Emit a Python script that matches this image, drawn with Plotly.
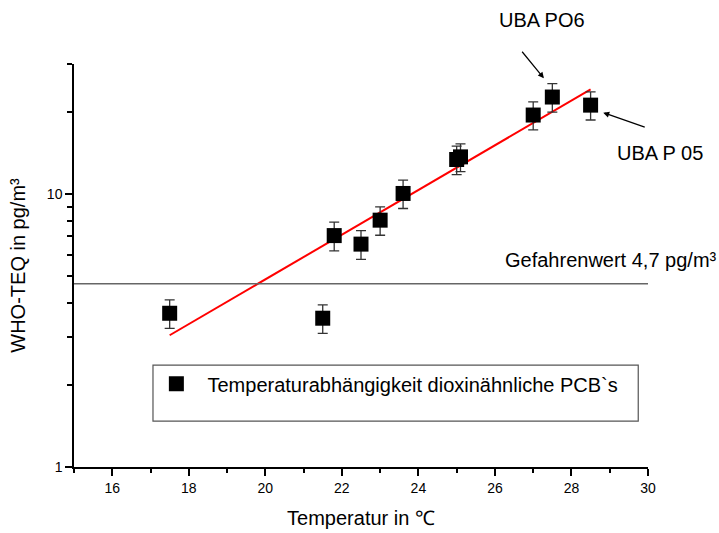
import math
import plotly.graph_objects as go

temp = [17.5, 21.5, 21.8, 22.5, 23.0, 23.6, 25.0, 25.1, 27.0, 27.5, 28.5]
teq = [3.66, 3.51, 7.05, 6.56, 8.03, 10.06, 13.4, 13.7, 19.5, 22.7, 21.2]
teq_err = [0.44, 0.42, 0.85, 0.79, 0.96, 1.2, 1.6, 1.6, 2.3, 2.7, 2.5]

fit_x = [17.5, 28.5]
fit_y = [3.04, 24.2]

limit_value = 4.7
x_range = [15, 30]
y_range = [1, 30]

x_ticks = [16, 18, 20, 22, 24, 26, 28, 30]
x_minor = [15, 17, 19, 21, 23, 25, 27, 29]
y_ticks = [1, 10]
y_minor = [2, 3, 4, 5, 6, 7, 8, 9, 20, 30]

FONT = "Liberation Sans, Arial, sans-serif"

fig = go.Figure()

fig.add_trace(go.Scatter(
    x=fit_x, y=fit_y, mode="lines",
    line=dict(color="#ff0000", width=2),
    showlegend=False, hoverinfo="skip",
))

fig.add_trace(go.Scatter(
    x=temp, y=teq, mode="markers",
    name="\u00a0\u00a0Temperaturabhängigkeit dioxinähnliche PCB`s",
    marker=dict(symbol="square", size=15, color="black"),
    error_y=dict(type="data", array=teq_err, color="#333333", thickness=1.3, width=5),
    cliponaxis=False,
))

fig.add_shape(type="line", xref="x", yref="y", x0=x_range[0], x1=x_range[1],
              y0=limit_value, y1=limit_value, line=dict(color="#666666", width=1.5))

# legend frame
fig.add_shape(type="rect", xref="paper", yref="paper", x0=0.1376, x1=0.983,
              y0=0.114, y1=0.253, line=dict(color="#555555", width=1.2),
              fillcolor="rgba(0,0,0,0)")

annotations = [
    dict(x=27.28, y=math.log10(26.6), xref="x", yref="y", text="", showarrow=True,
         ax=-23, ay=-28, arrowhead=2, arrowsize=1, arrowwidth=1.2, arrowcolor="black"),
    dict(x=28.83, y=math.log10(19.9), xref="x", yref="y", text="", showarrow=True,
         ax=43, ay=15, arrowhead=2, arrowsize=1, arrowwidth=1.2, arrowcolor="black"),
    dict(x=0.815, y=1.109, xref="paper", yref="paper", text="UBA PO6", showarrow=False,
         xanchor="center", yanchor="middle", font=dict(size=20, color="black")),
    dict(x=1.021, y=0.779, xref="paper", yref="paper", text="UBA P 05", showarrow=False,
         xanchor="center", yanchor="middle", font=dict(size=20, color="black")),
    dict(x=0.9355, y=0.514, xref="paper", yref="paper", text="Gefahrenwert 4,7 pg/m³",
         xanchor="center", yanchor="middle", showarrow=False,
         font=dict(size=20, color="black")),
]

fig.update_layout(
    width=719, height=533,
    margin=dict(l=74, r=71, t=64, b=66),
    paper_bgcolor="white", plot_bgcolor="white",
    font=dict(family=FONT, color="black", size=14),
    annotations=annotations,
    legend=dict(x=0.1435, y=0.255, xanchor="left", yanchor="top",
                bgcolor="rgba(0,0,0,0)", font=dict(size=20)),
    xaxis=dict(
        range=x_range, tickmode="array", tickvals=x_ticks, automargin=False,
        showline=True, linecolor="black", linewidth=1.5, mirror=False,
        ticks="outside", ticklen=7, tickwidth=1.5, tickcolor="black",
        minor=dict(tickmode="array", tickvals=x_minor, ticks="outside", ticklen=4,
                   tickwidth=1.5, tickcolor="black"),
        showgrid=False, zeroline=False,
        title=dict(text="Temperatur in ℃", font=dict(size=20), standoff=16),
    ),
    yaxis=dict(
        type="log", range=[0, 1.4771], tickmode="array", tickvals=y_ticks,
        ticktext=["1", "10"], automargin=False,
        showline=True, linecolor="black", linewidth=1.5, mirror=False,
        ticks="outside", ticklen=7, tickwidth=1.5, tickcolor="black",
        minor=dict(tickmode="array", tickvals=y_minor, ticks="outside", ticklen=5,
                   tickwidth=1.5, tickcolor="black"),
        showgrid=False, zeroline=False,
        title=dict(text="WHO-TEQ in pg/m³", font=dict(size=20), standoff=16),
    ),
)

fig.write_html("out.html", config={"displayModeBar": False},
               post_script="document.body.style.margin='0';")
